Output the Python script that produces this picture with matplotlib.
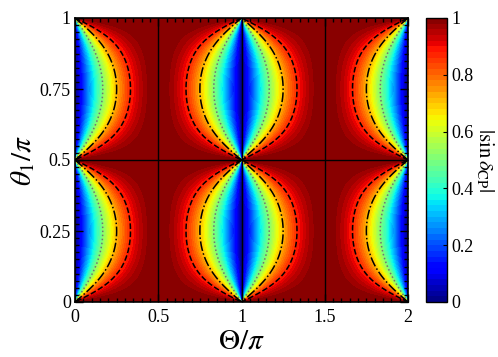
import numpy as np
import matplotlib.pyplot as plt
from matplotlib.ticker import MultipleLocator

plt.rcParams['font.family'] = ['Liberation Serif', 'DejaVu Serif']
plt.rcParams['mathtext.fontset'] = 'stix'

# axis ranges (in units of pi)
Theta_range = [0, 2]
theta1_range = [0, 1]
a_coef = 1.0
# contour levels: dotted, dash-dot, dashed
contour_levels = [0.5, 0.707, 0.866]
contour_styles = [':', '-.', '--']
contour_colors = ['0.45', 'black', 'black']
xticks = [0, 0.5, 1, 1.5, 2]
xticklabels = ['0', '0.5', '1', '1.5', '2']
yticks = [0, 0.25, 0.5, 0.75, 1]
yticklabels = ['0', '0.25', '0.5', '0.75', '1']
cbar_ticks = [0, 0.2, 0.4, 0.6, 0.8, 1]
cbar_ticklabels = ['0', '0.2', '0.4', '0.6', '0.8', '1']

X = np.linspace(Theta_range[0], Theta_range[1], 801)
Y = np.linspace(theta1_range[0], theta1_range[1], 401)
XX, YY = np.meshgrid(X, Y)
sT = np.abs(np.sin(np.pi * XX))
cT = np.cos(np.pi * XX)
s2 = np.sin(2 * np.pi * YY)
den = np.sqrt(sT**2 + a_coef * s2**2 * cT**2)
Z = np.divide(sT, den, out=np.ones_like(sT), where=den > 1e-12)

fig = plt.figure(figsize=(4.98, 3.57), dpi=100)
ax = fig.add_axes([75/498, 1 - 302/357, 333/498, 284/357])
cax = fig.add_axes([426/498, 1 - 302/357, 21/498, 284/357])

cf = ax.contourf(XX, YY, Z, levels=np.linspace(0, 1, 51), cmap='jet', vmin=0, vmax=1)
for lev, ls, col in zip(contour_levels, contour_styles, contour_colors):
    ax.contour(XX, YY, Z, levels=[lev], colors=col, linestyles=ls, linewidths=1.1)

for v in [0.5, 1, 1.5]:
    ax.axvline(v, color='black', lw=1.0)
ax.axhline(0.5, color='black', lw=1.0)

ax.set_xlim(Theta_range)
ax.set_ylim(theta1_range)
ax.set_xticks(xticks)
ax.set_xticklabels(xticklabels)
ax.set_yticks(yticks)
ax.set_yticklabels(yticklabels)
ax.xaxis.set_minor_locator(MultipleLocator(0.05))
ax.yaxis.set_minor_locator(MultipleLocator(0.025))
ax.tick_params(which='both', direction='in', top=True, right=True, labelsize=13, width=1.0)
ax.tick_params(which='major', length=6)
ax.tick_params(which='minor', length=3)
ax.tick_params(axis='x', pad=5)
ax.tick_params(axis='y', pad=3)
for sp in ax.spines.values():
    sp.set_linewidth(1.2)
ax.set_xlabel(r'$\Theta/\pi$', fontsize=21, labelpad=2)
ax.set_ylabel(r'$\theta_1/\pi$', fontsize=21, labelpad=2)

cb = fig.colorbar(cf, cax=cax, ticks=cbar_ticks)
cb.ax.set_yticklabels(cbar_ticklabels)
cb.ax.tick_params(labelsize=13, length=3, direction='in', pad=3)
cb.outline.set_linewidth(1.0)
cb.set_label(r'$|\sin\delta_{\rm CP}|$', rotation=-90, fontsize=15, labelpad=16)

fig.savefig('out.png', dpi=100)
